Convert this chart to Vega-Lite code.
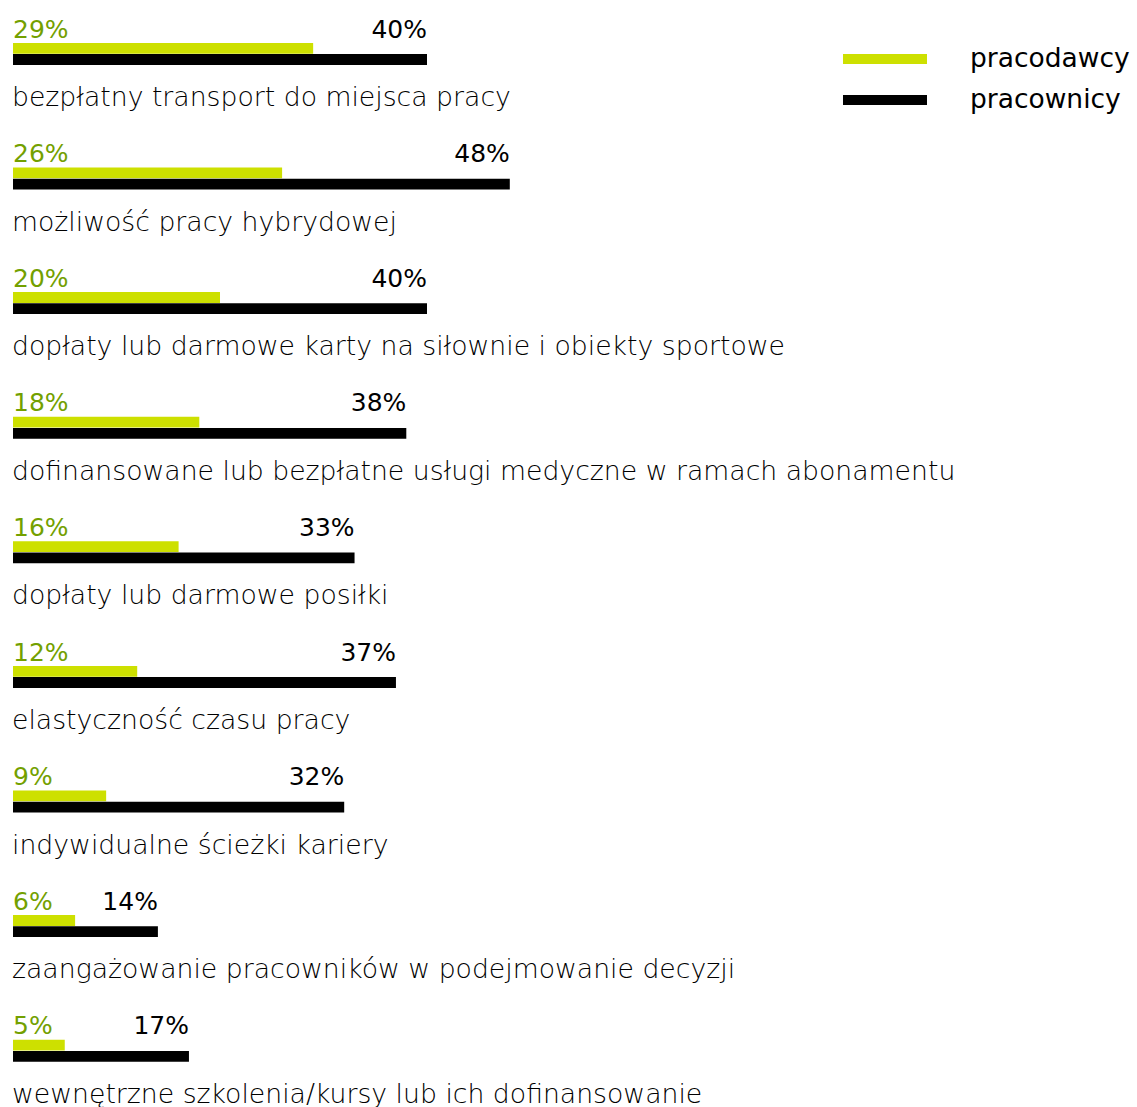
{
  "$schema": "https://vega.github.io/schema/vega-lite/v6.json",
  "width": 1137,
  "height": 1121.4,
  "padding": 0,
  "autosize": {"type": "none"},
  "background": "white",
  "config": {"view": {"stroke": null}, "font": "DejaVu Sans"},
  "data": {
    "values": [
      {"cat": "bezpłatny transport do miejsca pracy", "pracodawcy": 0.29, "pracownicy": 0.40},
      {"cat": "możliwość pracy hybrydowej", "pracodawcy": 0.26, "pracownicy": 0.48},
      {"cat": "dopłaty lub darmowe karty na siłownie i obiekty sportowe", "pracodawcy": 0.20, "pracownicy": 0.40},
      {"cat": "dofinansowane lub bezpłatne usługi medyczne w ramach abonamentu", "pracodawcy": 0.18, "pracownicy": 0.38},
      {"cat": "dopłaty lub darmowe posiłki", "pracodawcy": 0.16, "pracownicy": 0.33},
      {"cat": "elastyczność czasu pracy", "pracodawcy": 0.12, "pracownicy": 0.37},
      {"cat": "indywidualne ścieżki kariery", "pracodawcy": 0.09, "pracownicy": 0.32},
      {"cat": "\u00a0zaangażowanie pracowników w podejmowanie decyzji", "pracodawcy": 0.06, "pracownicy": 0.14},
      {"cat": "wewnętrzne szkolenia/kursy lub ich dofinansowanie", "pracodawcy": 0.05, "pracownicy": 0.17}
    ]
  },
  "encoding": {
    "y": {"field": "cat", "type": "nominal", "sort": null, "axis": null,
          "scale": {"paddingInner": 0, "paddingOuter": 0}}
  },
  "layer": [
    {
      "mark": {"type": "bar", "height": 10.8, "yOffset": -14},
      "encoding": {
        "x": {"field": "pracodawcy", "type": "quantitative", "axis": null,
              "scale": {"domain": [0, 1], "range": [13, 1048], "nice": false}},
        "color": {"datum": "pracodawcy", "type": "nominal",
          "scale": {"domain": ["pracodawcy", "pracownicy"], "range": ["#cde000", "#000000"]},
          "legend": {"title": null, "orient": "none", "legendX": 870, "legendY": 44, "padding": 0,
                     "symbolType": "M-2.8,-0.333H2.8V0.333H-2.8Z", "symbolSize": 900, "symbolStrokeWidth": 0,
                     "labelFontSize": 26.5, "labelFont": "DejaVu Sans", "labelColor": "#000000",
                     "labelOffset": 70, "rowPadding": 12, "labelLimit": 400}}
      }
    },
    {
      "mark": {"type": "bar", "height": 10.8, "yOffset": -2.8},
      "encoding": {
        "x": {"field": "pracownicy", "type": "quantitative"},
        "color": {"datum": "pracownicy", "type": "nominal"}
      }
    },
    {
      "mark": {"type": "text", "align": "left", "baseline": "alphabetic", "dy": -24.6,
               "fontSize": 25, "color": "#73a000", "font": "DejaVu Sans"},
      "encoding": {
        "x": {"datum": 0, "type": "quantitative"},
        "text": {"field": "pracodawcy", "type": "quantitative", "format": ".0%"}
      }
    },
    {
      "mark": {"type": "text", "align": "right", "baseline": "alphabetic", "dy": -24.6,
               "fontSize": 25, "color": "#000000", "font": "DejaVu Sans"},
      "encoding": {
        "x": {"field": "pracownicy", "type": "quantitative"},
        "text": {"field": "pracownicy", "type": "quantitative", "format": ".0%"}
      }
    },
    {
      "mark": {"type": "text", "align": "left", "baseline": "alphabetic", "dy": 43.7, "dx": -1,
               "fontSize": 26.7, "fontWeight": 300, "color": "#000000", "font": "DejaVu Sans"},
      "encoding": {
        "x": {"datum": 0, "type": "quantitative"},
        "text": {"field": "cat", "type": "nominal"}
      }
    }
  ]
}
